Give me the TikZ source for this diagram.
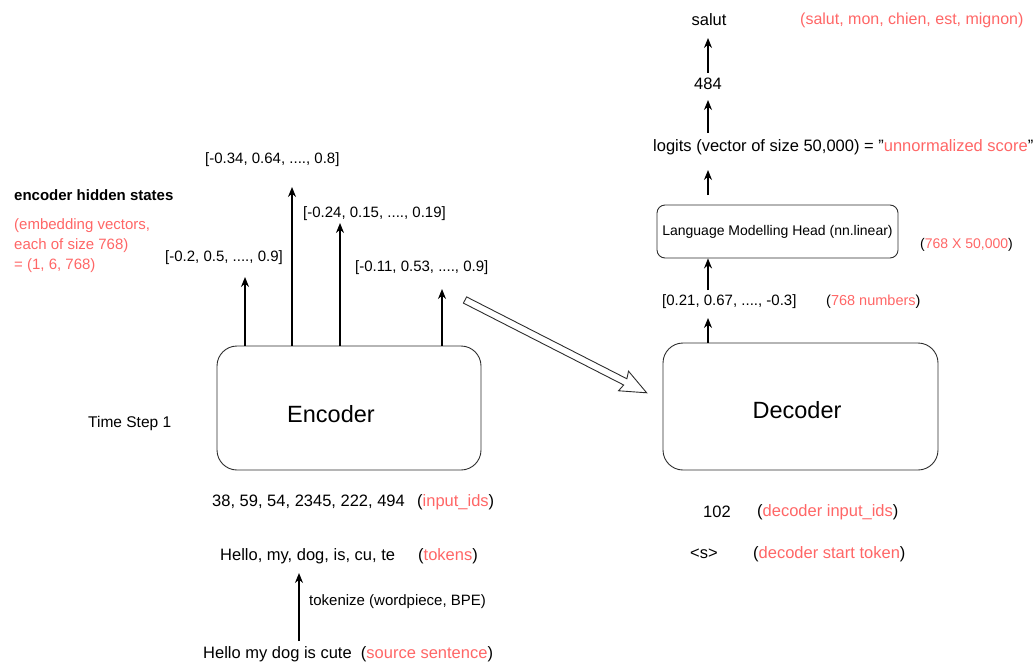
\documentclass[tikz,border=0pt]{standalone}
\usepackage{fontspec}
\setmainfont{Liberation Sans}
\usetikzlibrary{arrows.meta,calc}
\definecolor{hl}{RGB}{255,102,102}
\definecolor{edge}{RGB}{45,45,45}
% black parentheses around highlighted words
\newcommand{\rp}[1]{(\textcolor{hl}{#1})}
\newcommand{\dq}{\symbol{34}}

\begin{document}
\begin{tikzpicture}[x=1pt,y=-1pt,
  lg/.style={inner sep=0pt, font=\fontsize{16.5}{19}\selectfont},
  md/.style={inner sep=0pt, font=\fontsize{15}{18}\selectfont},
  sm/.style={inner sep=0pt, font=\fontsize{14}{17}\selectfont},
  blk/.style={draw=edge, line width=0.9pt, rounded corners=20pt, inner sep=0pt},
  head/.style={draw=edge, line width=0.9pt, rounded corners=8pt, inner sep=0pt},
  up/.style={line width=1.3pt, -{Stealth[length=10pt,width=8pt]}},
]
\useasboundingbox (0,0) rectangle (1036,664);

% ---------------- encoder side ----------------
\node[blk, minimum width=264pt, minimum height=124pt] (enc) at (349,408) {};
\node[inner sep=0pt, font=\fontsize{23.5}{28}\selectfont] (enctxt) at (331,414) {Encoder};
\node[md, anchor=west, font=\fontsize{15.5}{18}\selectfont] (step) at (88,423) {Time Step 1};

\node[md, anchor=west] (hs) at (14,195) {\textbf{encoder hidden states}};
\node[inner sep=0pt, anchor=west, align=left, text=hl,
      font=\fontsize{15}{20}\selectfont] (hsnote) at (14,246)
  {(embedding vectors,\\each of size 768)\\= (1, 6, 768)};

\node[md, anchor=west] (v1) at (165,258) {[-0.2, 0.5, ...., 0.9]};
\node[md, anchor=west] (v2) at (205,160) {[-0.34, 0.64, ...., 0.8]};
\node[md, anchor=west] (v3) at (303,214) {[-0.24, 0.15, ...., 0.19]};
\node[md, anchor=west] (v4) at (355,268) {[-0.11, 0.53, ...., 0.9]};

\coordinate (t1) at (245,277);
\coordinate (t2) at (292,187);
\coordinate (t3) at (340,223);
\coordinate (t4) at (442,289);
\foreach \t in {t1,t2,t3,t4}
  \draw[up] (enc.north -| \t) -- (\t);

\node[lg, anchor=west] (ids) at (212,502) {38, 59, 54, 2345, 222, 494};
\node[lg, anchor=west] (idsl) at (417,502) {\rp{input\_ids}};
\node[lg, anchor=west] (toks) at (220,556) {Hello, my, dog, is, cu, te};
\node[lg, anchor=west] (toksl) at (418,556) {\rp{tokens}};
\node[md, anchor=west] (tkz) at (309,602) {tokenize (wordpiece, BPE)};
\node[lg, anchor=west] (src) at (203,654) {Hello my dog is cute\ \ \rp{source sentence}};
\coordinate (k0) at (299,641);
\coordinate (k1) at (299,573);
\draw[up] (k0) -- (k1);

% hand-over from encoder to decoder
\coordinate (h0) at (465,300);
\begin{scope}[shift={(h0)}, rotate=-27.06]
  \draw[edge, line width=0.9pt, fill=white, line join=miter]
    (0,3.5) -- (180,3.5) -- (178,11) -- (204,0) -- (178,-11) -- (180,-3.5) -- (0,-3.5) -- cycle;
\end{scope}

% ---------------- decoder side ----------------
\node[blk, minimum width=275pt, minimum height=127pt] (dec) at (800.5,406.5) {};
\node[inner sep=0pt, font=\fontsize{23.5}{28}\selectfont] (dectxt) at (797,410) {Decoder};

\node[lg] (n102) at (717,512) {102};
\node[lg, anchor=west] (n102l) at (757,512) {\rp{decoder input\_ids}};
\node[lg] (sos) at (704,554) {<s>};
\node[lg, anchor=west] (sosl) at (753,554) {\rp{decoder start token}};

\node[md, anchor=west] (vd) at (662,302) {[0.21, 0.67, ...., -0.3]};
\node[inner sep=0pt, anchor=west, font=\fontsize{14.5}{17}\selectfont] (vdl) at (826,302) {\rp{768 numbers}};

\node[head, minimum width=241pt, minimum height=53pt, font=\fontsize{14}{17}\selectfont]
  (lm) at (777.5,231.5) {Language Modelling Head (nn.linear)};
\node[sm, anchor=west] (lmd) at (920,245) {\rp{768 X 50,000}};

\node[lg, anchor=west] (logits) at (653,147)
  {logits (vector of size 50,000) = \dq\textcolor{hl}{unnormalized score}\dq};
\node[lg] (n484) at (708,84) {484};
\node[lg] (salut) at (709,20) {salut};
\node[inner sep=0pt, anchor=west, text=hl, font=\fontsize{16}{19}\selectfont]
  (fr) at (800,20) {(salut, mon, chien, est, mignon)};

\coordinate (d1) at (708,318);
\coordinate (d2a) at (708,290);
\coordinate (d3a) at (708,195);
\coordinate (d3b) at (708,170);
\coordinate (d4a) at (708,133);
\coordinate (d4b) at (708,100);
\coordinate (d5a) at (708,73);
\coordinate (d5b) at (708,38);
\draw[up] (dec.north -| d1) -- (d1);
\draw[up] (d2a) -- (lm.south -| d2a);
\draw[up] (d3a) -- (d3b);
\draw[up] (d4a) -- (d4b);
\draw[up] (d5a) -- (d5b);
\end{tikzpicture}
\end{document}
